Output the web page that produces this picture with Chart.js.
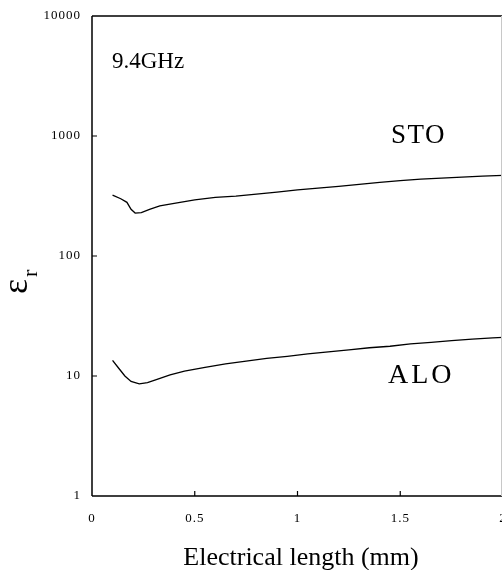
<!DOCTYPE html>
<html><head><meta charset="utf-8">
<script src="https://cdn.jsdelivr.net/npm/chart.js@4"></script>
<style>html,body{margin:0;padding:0;background:#fff;overflow:hidden}#wrap{width:502px;height:570px;overflow:hidden;position:relative}canvas{display:block}</style>
</head><body><div id="wrap"><canvas id="c" width="505" height="570" style="width:505px;height:570px"></canvas></div>
<script>
const stoX = [0.10,0.14,0.17,0.19,0.21,0.24,0.28,0.33,0.40,0.50,0.60,0.70,0.80,0.90,1.00,1.10,1.20,1.30,1.40,1.50,1.60,1.70,1.80,1.90,2.00];
const stoY = [322,300,280,245,228,230,245,262,275,293,308,316,328,340,355,368,380,395,410,425,437,446,455,463,470];
const aloX = [0.10,0.13,0.16,0.19,0.23,0.27,0.32,0.38,0.45,0.55,0.65,0.75,0.85,0.95,1.05,1.15,1.25,1.35,1.45,1.55,1.65,1.75,1.85,1.95,2.00];
const aloY = [13.5,11.6,10.0,9.0,8.6,8.8,9.4,10.2,11.0,11.8,12.6,13.3,14.0,14.6,15.3,15.9,16.5,17.2,17.7,18.5,19.1,19.7,20.3,20.8,21.0];
const xTicks = [0,0.5,1,1.5,2];
const yTicks = [1,10,100,1000,10000];
const labels = [
  {text:'9.4GHz', x:0.097, y:3710, size:23, spacing:0},
  {text:'STO', x:1.455, y:875, size:27, spacing:1.5},
  {text:'ALO', x:1.44, y:8.74, size:28, spacing:3}
];
const xTitle = 'Electrical length (mm)';
const yTitleMain = 'ε';
const yTitleSub = 'r';

const FONT = '"Liberation Serif", "Times New Roman", serif';
const toPts = (xs, ys) => xs.map((x, i) => ({x: x, y: ys[i]}));

const decor = {
  id: 'decor',
  beforeDraw(chart) { chart.ctx.letterSpacing = '1px'; },
  afterDraw(chart) {
    const ctx = chart.ctx, a = chart.chartArea;
    const xs = chart.scales.x, ys = chart.scales.y;
    ctx.save();
    ctx.letterSpacing = '0px';
    ctx.strokeStyle = '#000';
    ctx.lineWidth = 1.5;
    ctx.beginPath();
    ctx.moveTo(a.left, a.top); ctx.lineTo(a.right, a.top);
    ctx.moveTo(a.left, a.top); ctx.lineTo(a.left, a.bottom);
    ctx.moveTo(a.left, a.bottom); ctx.lineTo(a.right, a.bottom);
    ctx.stroke();
    ctx.strokeStyle = '#c8c8c8';
    ctx.lineWidth = 1;
    ctx.beginPath();
    ctx.moveTo(501.5, a.top); ctx.lineTo(501.5, a.bottom);
    ctx.stroke();
    ctx.strokeStyle = '#000';
    ctx.lineWidth = 1.2;
    ctx.beginPath();
    yTicks.slice(1, -1).forEach(v => { const p = ys.getPixelForValue(v); ctx.moveTo(a.left, p); ctx.lineTo(a.left + 5, p); });
    xTicks.slice(1, -1).forEach(v => { const p = xs.getPixelForValue(v); ctx.moveTo(p, a.bottom); ctx.lineTo(p, a.bottom - 5); });
    ctx.stroke();
    ctx.fillStyle = '#000';
    ctx.textBaseline = 'alphabetic';
    ctx.textAlign = 'left';
    labels.forEach(l => {
      ctx.font = l.size + 'px ' + FONT;
      ctx.letterSpacing = l.spacing + 'px';
      ctx.fillText(l.text, xs.getPixelForValue(l.x), ys.getPixelForValue(l.y));
    });
    ctx.letterSpacing = '0px';
    ctx.font = '26px ' + FONT;
    ctx.textAlign = 'center';
    ctx.fillText(xTitle, 301, 565);
    ctx.textAlign = 'left';
    ctx.save();
    ctx.translate(27, 294); ctx.rotate(-Math.PI / 2);
    ctx.font = '36px ' + FONT;
    ctx.fillText(yTitleMain, 0, 0);
    ctx.restore();
    ctx.save();
    ctx.translate(37, 277); ctx.rotate(-Math.PI / 2);
    ctx.font = '22px ' + FONT;
    ctx.letterSpacing = '2px';
    ctx.fillText(yTitleSub, 0, 0);
    ctx.restore();
    ctx.restore();
  }
};

new Chart(document.getElementById('c'), {
  type: 'line',
  data: {
    datasets: [
      {label: 'STO', data: toPts(stoX, stoY), borderColor: '#000', borderWidth: 1.3, pointRadius: 0, tension: 0, fill: false},
      {label: 'ALO', data: toPts(aloX, aloY), borderColor: '#000', borderWidth: 1.3, pointRadius: 0, tension: 0, fill: false}
    ]
  },
  options: {
    responsive: false,
    animation: false,
    devicePixelRatio: 1,
    layout: {padding: {top: 16, right: 2, left: 0, bottom: 0}},
    plugins: {legend: {display: false}, tooltip: {enabled: false}},
    scales: {
      x: {
        type: 'linear', min: 0, max: 2,
        afterBuildTicks: s => { s.ticks = xTicks.map(v => ({value: v})); },
        afterFit: s => { s.height = 74; s.paddingLeft = 0; s.paddingRight = 0; },
        grid: {display: false, drawTicks: false},
        border: {display: false},
        ticks: {color: '#000', font: {family: FONT, size: 13}, padding: 15, maxRotation: 0, autoSkip: false, callback: v => String(v)}
      },
      y: {
        type: 'logarithmic', min: 1, max: 10000,
        afterBuildTicks: s => { s.ticks = yTicks.map(v => ({value: v})); },
        afterFit: s => { s.width = 92; s.paddingTop = 0; s.paddingBottom = 0; },
        grid: {display: false, drawTicks: false},
        border: {display: false},
        ticks: {color: '#000', font: {family: FONT, size: 13}, padding: 11, autoSkip: false, callback: v => String(v)}
      }
    }
  },
  plugins: [decor]
});
</script>
</body></html>
